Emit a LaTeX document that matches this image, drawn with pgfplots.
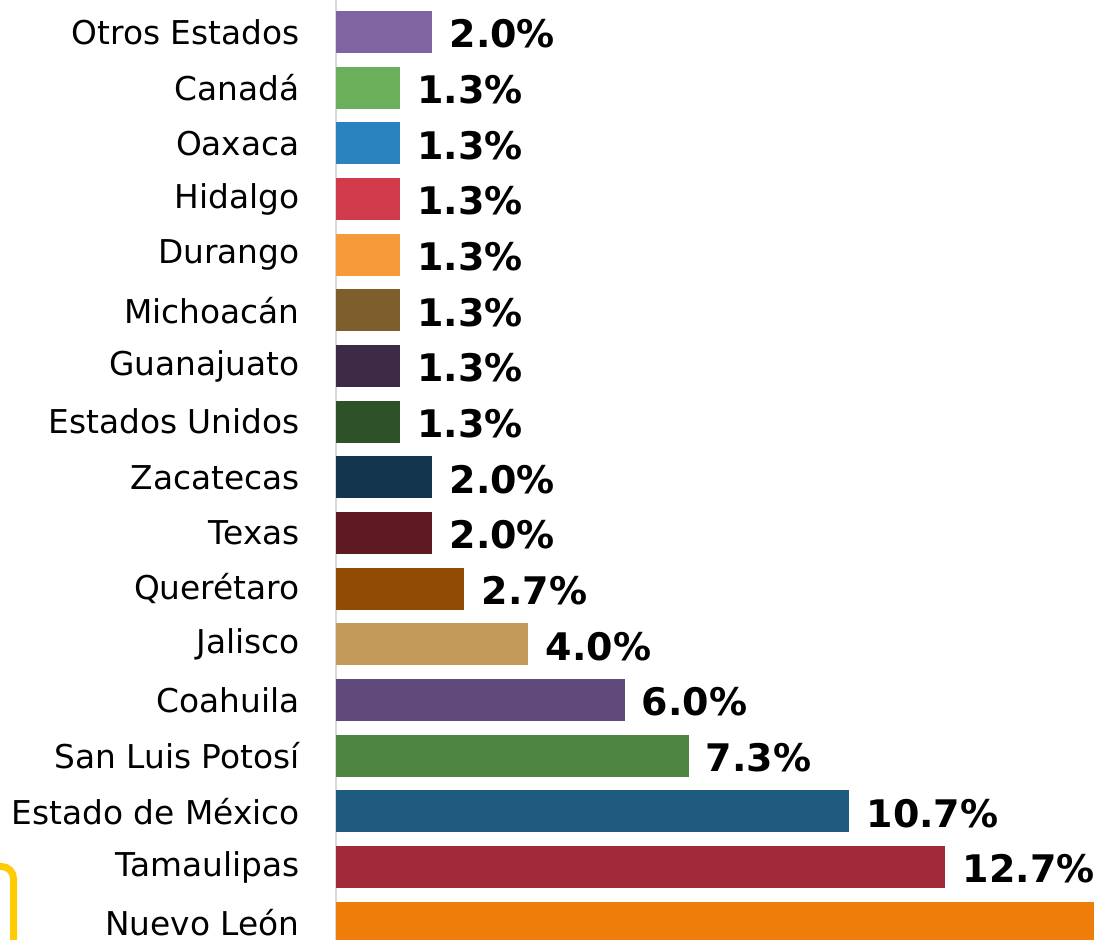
\documentclass[border=0pt]{standalone}
\usepackage{pgfplots}
\pgfplotsset{compat=1.18}
\usepackage{fontspec}
\setmainfont{DejaVu Sans}

\definecolor{cOtros}{HTML}{8064A2}
\definecolor{cCanada}{HTML}{6AAF5A}
\definecolor{cOaxaca}{HTML}{2A82BE}
\definecolor{cHidalgo}{HTML}{D13A4A}
\definecolor{cDurango}{HTML}{F79A3A}
\definecolor{cMich}{HTML}{7F5E2E}
\definecolor{cGto}{HTML}{3C2A47}
\definecolor{cUSA}{HTML}{2F5129}
\definecolor{cZac}{HTML}{12344C}
\definecolor{cTexas}{HTML}{5F1921}
\definecolor{cQro}{HTML}{914B03}
\definecolor{cJal}{HTML}{C49A5A}
\definecolor{cCoah}{HTML}{604A7B}
\definecolor{cSLP}{HTML}{4E8542}
\definecolor{cEdomex}{HTML}{1F5B7F}
\definecolor{cTamps}{HTML}{A22937}
\definecolor{cNL}{HTML}{EF7D0A}
\definecolor{marco}{HTML}{FFCC00}

\begin{document}
\begin{tikzpicture}
\path[use as bounding box] (0,0) rectangle (547pt,470pt);
\clip (0,0) rectangle (547pt,470pt);

% recuadro amarillo que asoma abajo a la izquierda
\draw[marco, line width=3.5pt, rounded corners=6pt]
    (-5pt,36.75pt) -- (6.75pt,36.75pt) -- (6.75pt,-5pt);

\begin{axis}[
    at={(168pt,0pt)}, anchor=south west,
    scale only axis,
    width=379pt, height=470pt,
    xbar,
    xmin=0, xmax=15.76,
    ymin=-0.575, ymax=16.31,
    y dir=reverse,
    hide x axis,
    axis y line*=left,
    y axis line style={draw=black!15, line width=1pt},
    major tick length=0pt,
    ytick={0,...,16},
    yticklabels={Otros Estados, Canadá, Oaxaca, Hidalgo, Durango, Michoacán,
        Guanajuato, Estados Unidos, Zacatecas, Texas, Querétaro, Jalisco,
        Coahuila, San Luis Potosí, Estado de México, Tamaulipas, Nuevo León},
    yticklabel style={font=\fontsize{16.4}{17}\selectfont, inner sep=0pt, anchor=east, xshift=-18pt},
    every axis plot/.append style={draw=none, bar width=21pt, bar shift=0pt},
    /pgf/number format/assume math mode=true,
    nodes near coords={\pgfmathprintnumber[fixed, fixed zerofill, precision=1]{\pgfplotspointmeta}\%},
    nodes near coords style={font=\bfseries\fontsize{19}{19}\selectfont, inner sep=0pt, anchor=west, xshift=8.5pt, yshift=-1pt, text=black},
    point meta=x,
]
\addplot[fill=cOtros]  coordinates {(2.0,0)};
\addplot[fill=cCanada] coordinates {(1.33,1)};
\addplot[fill=cOaxaca] coordinates {(1.33,2)};
\addplot[fill=cHidalgo] coordinates {(1.33,3)};
\addplot[fill=cDurango] coordinates {(1.33,4)};
\addplot[fill=cMich]   coordinates {(1.33,5)};
\addplot[fill=cGto]    coordinates {(1.33,6)};
\addplot[fill=cUSA]    coordinates {(1.33,7)};
\addplot[fill=cZac]    coordinates {(2.0,8)};
\addplot[fill=cTexas]  coordinates {(2.0,9)};
\addplot[fill=cQro]    coordinates {(2.67,10)};
\addplot[fill=cJal]    coordinates {(4.0,11)};
\addplot[fill=cCoah]   coordinates {(6.0,12)};
\addplot[fill=cSLP]    coordinates {(7.33,13)};
\addplot[fill=cEdomex] coordinates {(10.67,14)};
\addplot[fill=cTamps]  coordinates {(12.67,15)};
\addplot[fill=cNL]     coordinates {(41.33,16)};
\end{axis}
\end{tikzpicture}
\end{document}
